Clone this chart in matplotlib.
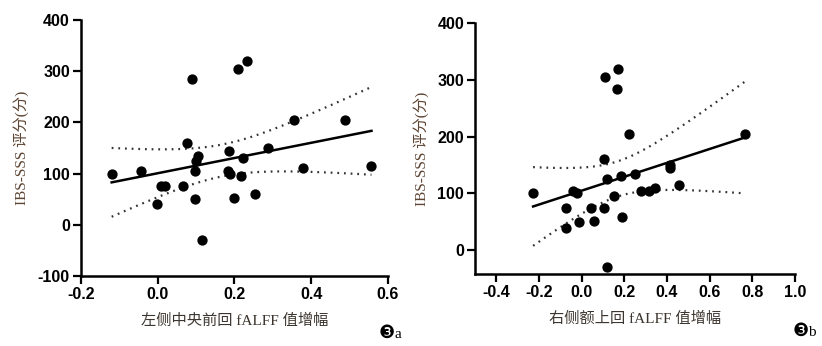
import numpy as np
import matplotlib.pyplot as plt

plt.rcParams['font.family'] = ['Liberation Sans', 'DejaVu Sans']

# panel a: left precentral gyrus fALFF change vs IBS-SSS
left_x = [-0.12, -0.043, -0.003, 0.008, 0.019, 0.066, 0.075, 0.089, 0.096, 0.098,
          0.099, 0.105, 0.116, 0.187, 0.184, 0.188, 0.200, 0.210, 0.216, 0.221,
          0.233, 0.253, 0.288, 0.354, 0.379, 0.489, 0.557]
left_y = [100, 105, 40, 75, 75, 75, 160, 285, 50, 105,
          125, 135, -30, 145, 105, 100, 53, 304, 95, 130,
          320, 60, 150, 205, 110, 205, 115]

# panel b: right superior frontal gyrus fALFF change vs IBS-SSS
right_x = [-0.228, -0.073, -0.073, -0.039, -0.020, -0.013, 0.044, 0.059, 0.105, 0.106,
           0.109, 0.120, 0.120, 0.152, 0.166, 0.172, 0.186, 0.188, 0.222, 0.252,
           0.280, 0.316, 0.344, 0.412, 0.416, 0.458, 0.764]
right_y = [100, 74, 39, 105, 100, 50, 74, 52, 74, 160,
           305, 125, -30, 95, 285, 320, 130, 59, 205, 135,
           105, 105, 109, 145, 150, 115, 205]

left_xticks = [-0.2, 0.0, 0.2, 0.4, 0.6]
right_xticks = [-0.4, -0.2, 0.0, 0.2, 0.4, 0.6, 0.8, 1.0]
left_yticks = [-100, 0, 100, 200, 300, 400]
right_yticks = [0, 100, 200, 300, 400]

ylabel = 'IBS-SSS 评分(分)'
left_xlabel = '左侧中央前回 fALFF 值增幅'
right_xlabel = '右侧额上回 fALFF 值增幅'
label_font = ['Liberation Serif', 'Noto Sans CJK SC']


def fit_with_band(x, y, t=2.06):
    x = np.asarray(x, float)
    y = np.asarray(y, float)
    slope, icpt = np.polyfit(x, y, 1)
    n = len(x)
    resid = y - (slope * x + icpt)
    s = np.sqrt(np.sum(resid ** 2) / (n - 2))
    xs = np.linspace(x.min(), x.max(), 100)
    fit = slope * xs + icpt
    se = s * np.sqrt(1 / n + (xs - x.mean()) ** 2 / np.sum((x - x.mean()) ** 2))
    return xs, fit, fit - t * se, fit + t * se


def draw_panel(ax, x, y, xticks, yticks, xlim, ylim, xlabel):
    xs, fit, lo, hi = fit_with_band(x, y)
    ax.plot(xs, fit, color='black', lw=1.8, zorder=2)
    ax.plot(xs, lo, color='#333333', lw=1.6, ls=(0, (0.8, 2.2)), zorder=2)
    ax.plot(xs, hi, color='#333333', lw=1.6, ls=(0, (0.8, 2.2)), zorder=2)
    ax.plot(x, y, 'o', color='black', ms=6.4, zorder=3)

    ax.set_xlim(*xlim)
    ax.set_ylim(*ylim)
    ax.set_xticks(xticks)
    ax.set_yticks(yticks)
    ax.set_xticklabels([f'{v:.1f}' for v in xticks], fontweight='bold', fontsize=11.5)
    ax.set_yticklabels([str(v) for v in yticks], fontweight='bold', fontsize=11.5)
    ax.tick_params(direction='out', length=6, width=1.6, pad=2)
    for side in ['top', 'right']:
        ax.spines[side].set_visible(False)
    for side in ['left', 'bottom']:
        ax.spines[side].set_linewidth(1.8)
    ax.set_xlabel(xlabel, family=label_font, fontsize=11, color='#3d3630', labelpad=8)
    ax.set_ylabel(ylabel, family=label_font, fontsize=11, color='#5e4432', labelpad=6)


fig = plt.figure(figsize=(8.22, 3.46), dpi=100)
ax1 = fig.add_axes([0.0985, 0.2023, 0.3735, 0.740])
ax2 = fig.add_axes([0.578, 0.208, 0.389, 0.7247])

draw_panel(ax1, left_x, left_y, left_xticks, left_yticks, (-0.2, 0.6), (-100, 400), left_xlabel)
draw_panel(ax2, right_x, right_y, right_xticks, right_yticks, (-0.5, 1.0), (-42, 400), right_xlabel)

fig.text(387 / 822, 1 - 333 / 346, '❸', fontsize=13, ha='center', va='center', family='DejaVu Sans')
fig.text(398 / 822, 1 - 334 / 346, 'a', fontsize=11, ha='center', va='center', family='Liberation Serif')
fig.text(801 / 822, 1 - 331 / 346, '❸', fontsize=13, ha='center', va='center', family='DejaVu Sans')
fig.text(812 / 822, 1 - 332 / 346, 'b', fontsize=11, ha='center', va='center', family='Liberation Serif')

fig.savefig('out.png', dpi=100)
